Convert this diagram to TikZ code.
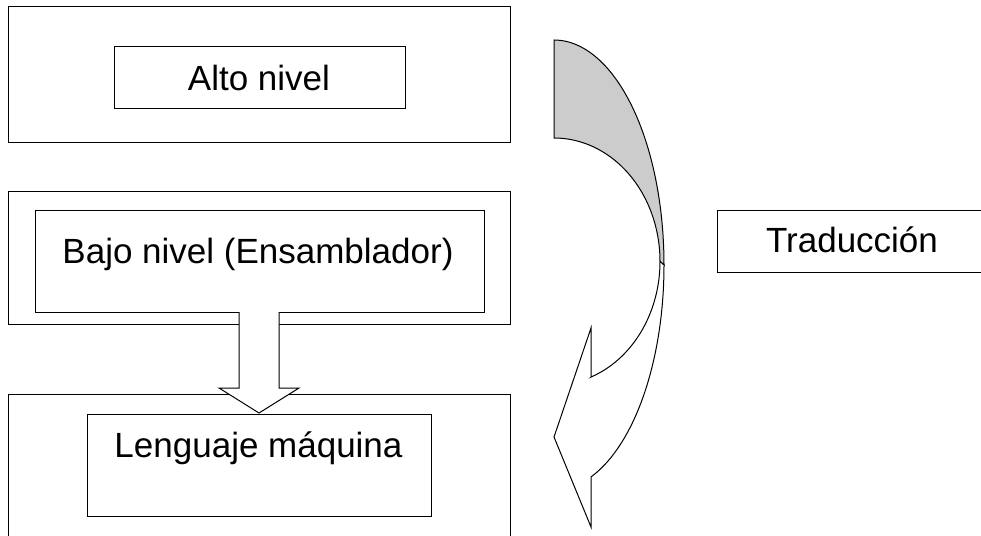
\documentclass[tikz,border=0pt]{standalone}
\usepackage{fontspec}
\setmainfont{Liberation Sans}
\begin{document}
\begin{tikzpicture}[x=1pt,y=-1pt,line width=1pt,
  box/.style={draw=black,fill=white,rectangle,inner sep=0pt},
  lbl/.style={anchor=base,inner sep=0pt,font=\fontsize{35}{42}\selectfont},
  backpart/.style={draw=black,fill=black!20,line join=miter},
  frontpart/.style={draw=black,fill=white,line join=miter}]
\useasboundingbox (0,0) rectangle (981,535);

% level frames
\node[box,minimum width=502pt,minimum height=135pt] (outerA) at (259,74.5) {};
\node[box,minimum width=291pt,minimum height=61pt]  (innerA) at (259.5,77.5) {};
\node[box,minimum width=502pt,minimum height=133pt] (outerB) at (259,257.5) {};
\node[box,minimum width=449pt,minimum height=102pt] (innerB) at (259.5,261) {};
\node[box,minimum width=502pt,minimum height=151pt] (outerC) at (259,469.5) {};
\node[box,minimum width=344pt,minimum height=102pt] (innerC) at (259,465) {};
\node[box,minimum width=278pt,minimum height=62pt]  (trad)   at (856,241) {};

% labels
\node[lbl] (tA) at (259,90) {Alto nivel};
\node[lbl] (tB) at (258,263) {Bajo nivel (Ensamblador)};
\node[lbl] (tC) at (258.5,457) {Lenguaje máquina};
\node[lbl] (tT) at (852,252) {Traducción};

% block arrow from assembler to machine language
\path[frontpart] (239,312) -- (239,388) -- (219,388) -- (259,413)
  -- (299,388) -- (279,388) -- (279,312);

% curved arrow: shaded back strip
\path[backpart]
  plot[domain=-90:0,samples=60,variable=\t] ({554+110*cos(\t)},{265+225*sin(\t)})
  -- plot[domain=0:-90,samples=60,variable=\t] ({554+106*cos(\t)},{261.4+123.4*sin(\t)})
  -- cycle;
% curved arrow: front with head
\path[frontpart]
  plot[domain=0:70.3,samples=60,variable=\t] ({554+110*cos(\t)},{265+225*sin(\t)})
  -- (591,527) -- (554,437) -- (591,328) -- (591,377)
  -- plot[domain=69.6:0,samples=60,variable=\t] ({554+106*cos(\t)},{261.4+123.4*sin(\t)})
  -- cycle;
\end{tikzpicture}
\end{document}
